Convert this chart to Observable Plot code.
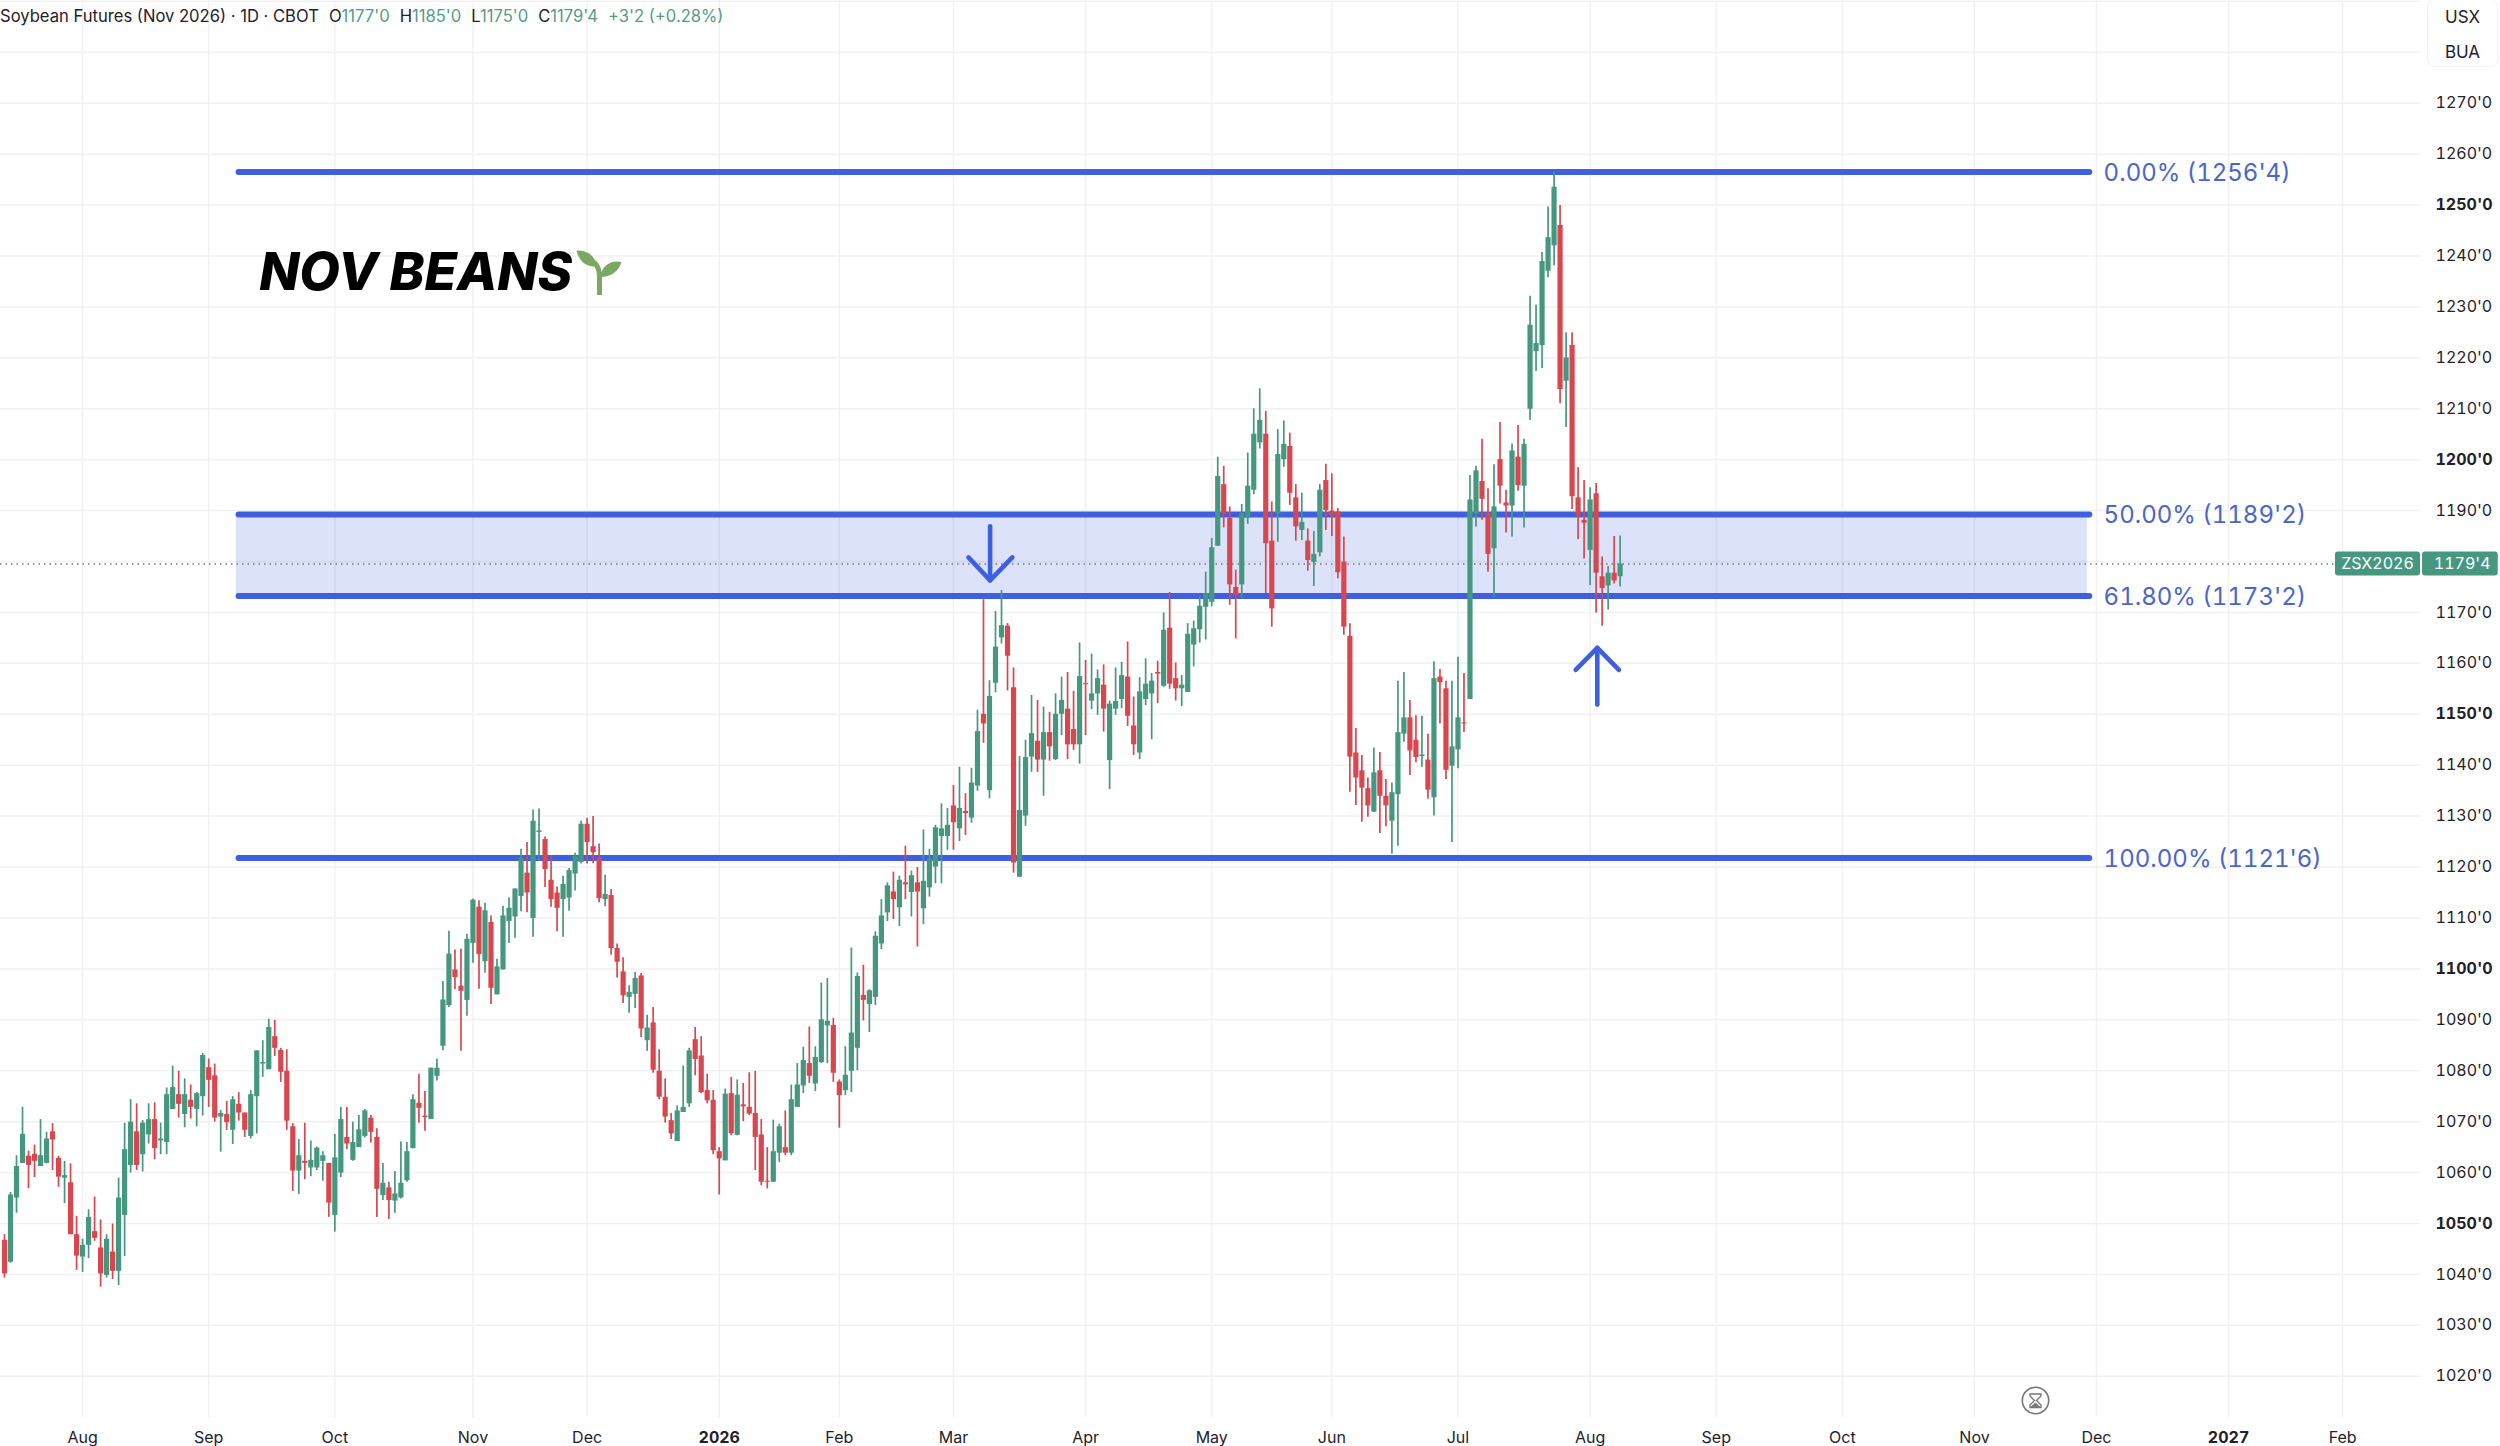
<!DOCTYPE html>
<html>
<head>
<meta charset="utf-8">
<script src="https://cdn.jsdelivr.net/npm/d3@7"></script>
<script src="https://cdn.jsdelivr.net/npm/@observablehq/plot@0.6"></script>
<style>
html,body{margin:0;padding:0;background:#fff;overflow:hidden}
#wrap{position:relative;width:2500px;height:1446px;overflow:hidden;font-family:Inter,sans-serif}
#wrap svg.plot{display:block}
#legend{position:absolute;left:0;top:6px;font-size:16.6px;line-height:21px;color:#1f2229;white-space:nowrap}
#legend .v{color:#569b87}
#legend .o{margin-left:10px}
#units{position:absolute;left:2427px;top:-1px;width:71px;height:68px;border:1px solid #f2f3f5;border-radius:7px;background:#fff;font-size:17px;color:#1f2229;text-align:center;box-sizing:border-box;padding-top:0;line-height:35px}
.icon{position:absolute;overflow:visible}
</style>
</head>
<body>
<div id="wrap"></div>
<script>
const highs = [
1047.8,1056.1,1063.3,1072.8,1064.2,1065.4,1070.4,1067.9,1069.6,1063.2,
1062.2,1061.7,1051.4,1046.9,1052.7,1055.2,1050.7,1047.8,1049.9,1058.9,
1069.7,1074.3,1073.5,1070.2,1073.5,1073.7,1069.7,1076.6,1080.9,1079.9,
1078.4,1077.2,1075.7,1083.4,1082.3,1081.3,1072.2,1074,1074.9,1075.7,
1071.7,1076.1,1083.9,1085.9,1090.1,1089.9,1084.4,1084.1,1069.6,1066.5,
1069.7,1066.2,1065,1064.1,1061.8,1067.5,1072.8,1072.8,1069.9,1071.2,
1072.4,1071.2,1068.6,1061.8,1058.1,1060.2,1066,1065.9,1075.3,1079.3,
1075.9,1080.5,1082.3,1097.5,1107.4,1103.7,1103.9,1106.8,1113.7,1113.4,
1112.9,1110.4,1101.9,1112.3,1113.9,1115.7,1123.5,1124.8,1131.2,1131.4,
1125.9,1122.2,1116.1,1118.2,1119.7,1122.7,1129,1129.6,1129.9,1124.5,
1118.4,1115.6,1104.9,1102.2,1096.7,1099.3,1099.1,1090.9,1092.4,1084.1,
1078.4,1071.6,1073.1,1080.9,1084.4,1088.5,1086.7,1079.3,1076.1,1064.9,
1076.4,1078.7,1078.2,1077.5,1079.6,1079.9,1070.4,1064.9,1070.3,1069.5,
1072.1,1077.2,1081.4,1084.6,1088.6,1084.7,1097.2,1098.1,1090.3,1078.2,
1084.7,1104.1,1099.2,1100.7,1095.9,1107.3,1113.6,1116.9,1119,1118.2,
1124.1,1119.2,1119.9,1127.3,1123.5,1128.2,1132.4,1131.5,1136,1139.6,
1134.4,1139.4,1150.8,1172.5,1156.6,1170.2,1174.3,1167.8,1159.1,1141.7,
1144.9,1153.7,1152.7,1151.4,1150.4,1154,1157.3,1158.2,1154.5,1164,
1160.6,1161.8,1158.7,1159.7,1152.6,1159.1,1160.2,1164.2,1153.4,1157.2,
1160.9,1158,1160.4,1169.9,1173.9,1160.1,1157.6,1167.8,1168.3,1173.1,
1177.9,1184.5,1200.5,1198.7,1190.7,1178.3,1191.2,1201.3,1210,1213.9,
1209.5,1191.7,1205.9,1207.6,1205.2,1195.1,1193.4,1186.4,1185.9,1195.1,
1199.1,1197.2,1190.4,1184.8,1167.8,1147.2,1141.9,1137.5,1143.4,1142.5,
1137.2,1136.5,1156.5,1158.2,1152.7,1149.7,1149.6,1146.1,1160.3,1158.8,
1156.5,1156.5,1161.2,1158,1196.9,1198.7,1204,1194.3,1199,1207.3,
1194,1203.1,1206.7,1204,1232.1,1230.3,1240.7,1249.6,1256.5,1249.9,
1224.9,1224.9,1198.4,1195.9,1194.5,1195.3,1180.9,1179,1184.9,1185];
const bodyHighs = [
1046.7,1055.6,1061.2,1067.5,1063.2,1063.6,1063.3,1066.6,1068,1062.8,
1059.4,1058,1047.8,1045.7,1051.2,1048.4,1045.2,1046.9,1044.4,1055,
1064.5,1069.9,1068,1069.7,1070.4,1070.4,1066.6,1075.3,1076.7,1075.3,
1075.3,1074.2,1075.5,1083,1080.6,1079,1071.6,1071.4,1074.3,1073.4,
1071.7,1075.3,1083.9,1081.6,1088.5,1086.7,1084,1079.9,1069,1063.3,
1062.2,1062.4,1064.8,1063.3,1061.8,1062.9,1070.4,1066.9,1065.9,1068.4,
1072.1,1070.7,1066.9,1057.9,1057,1055.8,1057.9,1064.1,1074.3,1073.6,
1071.1,1080.5,1080.5,1093.9,1102.9,1099.8,1096.6,1105.8,1113.5,1112.1,
1111.4,1109.1,1100.4,1110.4,1111.9,1115.7,1121.7,1118.8,1129,1127.1,
1125.4,1117.4,1114.9,1116.6,1119.3,1122.1,1128.4,1128.4,1124,1121.8,
1114.6,1114.4,1104,1099.4,1095.4,1098.1,1098.6,1088.4,1089.4,1079.9,
1074.8,1070.2,1072.1,1072.8,1083.9,1086.1,1082.9,1076.1,1074.2,1064.1,
1075.4,1075.5,1075.2,1073.3,1072.8,1071.6,1067.4,1058.3,1064.1,1069,
1064.9,1074.3,1077.2,1082,1081.4,1082.6,1090,1089.7,1088.9,1077.8,
1079.1,1087.4,1098.5,1094.8,1095.7,1106.4,1110.4,1116.3,1115.1,1117.4,
1116.9,1118.3,1116.9,1117.2,1121.6,1127.7,1127.5,1128.2,1132,1131.5,
1130.9,1136.5,1146.6,1150,1153.5,1163.2,1167.4,1167.3,1155.2,1131.1,
1141.5,1146.2,1144.7,1146.4,1146.4,1150,1152.7,1151,1147,1157.4,
1156,1154,1157,1155.7,1152,1152.5,1157.6,1157.3,1147.7,1154.4,
1155.9,1156.5,1158.2,1166.5,1166.9,1157,1155.7,1165.7,1166.8,1171.2,
1173.7,1182.7,1196.7,1195.1,1188.5,1174.9,1189.4,1194.8,1205,1207.7,
1205,1184,1201,1203,1202.6,1192.5,1187.7,1184,1181.4,1194,
1195.9,1189.9,1189.7,1179.9,1165.3,1142.4,1138.9,1135.4,1138.5,1138.9,
1133.9,1134.6,1146.4,1149.3,1149.3,1144.9,1142,1141,1157,1157.3,
1155,1143.6,1149.3,1148.3,1192.1,1197.8,1195.7,1189.4,1190.7,1200,
1191.5,1201.7,1200.5,1203,1226.4,1222.8,1238.9,1243.6,1253.5,1246,
1220,1222.4,1192.5,1188.1,1192.1,1193.3,1177,1177.7,1177.7,1179.5];
const bodyLows = [
1040.1,1042.4,1055,1061.8,1061.4,1062.2,1061.2,1061.8,1066.4,1059.1,
1058.9,1047.8,1043.6,1043.4,1045.7,1047.1,1040.1,1039.8,1040.6,1040.6,
1051.6,1061.4,1061.4,1063.5,1067.4,1064.7,1066.2,1065.9,1072.4,1073.4,
1071.4,1072.8,1072.4,1074.9,1078.1,1070.7,1070.9,1069.8,1068.3,1071.7,
1068.3,1067.1,1074.9,1081.3,1080.2,1084.4,1079.7,1070.1,1060.3,1060.3,
1061.8,1060.9,1060.9,1062.2,1054,1051.6,1059.9,1065.6,1062.4,1064.9,
1067.1,1067.9,1056.7,1055.5,1054.5,1054.4,1055,1058.4,1064.7,1072.6,
1070.8,1070.4,1078.9,1084.8,1092.8,1098.3,1095.6,1093.8,1105,1102.8,
1101.4,1096.2,1094.9,1099.8,1109.3,1110.2,1114.2,1114.9,1109.9,1126.8,
1119.5,1113.6,1111.9,1113.6,1113.9,1118.6,1120.9,1124.8,1122.8,1113.8,
1113.6,1104,1101.3,1094.7,1094.4,1095,1088.2,1085.9,1080.1,1074.8,
1070.9,1067.6,1066.1,1071.8,1073.5,1082.2,1075.7,1074.1,1064.3,1062.7,
1062.3,1067.6,1067.3,1072.9,1071.5,1066.9,1058.1,1058.1,1058.1,1063.8,
1063.8,1063.8,1072.8,1077,1078.9,1077.4,1081.6,1088.8,1079.5,1075.1,
1076.1,1079.9,1084.4,1093.8,1093,1094.4,1104.9,1111,1113.6,1112,
1116.5,1115,1115.1,1111.8,1115.9,1120,1126,1126,1128.7,1127.5,
1130.5,1129.6,1135.9,1148.1,1135,1156.1,1165,1161.4,1120.8,1118,
1130,1141.6,1141,1141,1143.6,1141.1,1150,1144,1144,1144,
1155.8,1152.6,1154,1151,1140.9,1151,1152.9,1149.6,1144,1142.4,
1152.9,1154,1157.9,1155.5,1155.9,1155,1155,1154.3,1163.6,1166.6,
1171,1172,1183,1189.3,1175.4,1173.3,1175.4,1188.5,1194,1203.3,
1183.5,1170.7,1189.3,1200,1193.4,1186.8,1186.1,1180.2,1179.8,1181.7,
1190,1188.9,1177.8,1167.1,1141.6,1137.5,1135.5,1132,1130.8,1133.9,
1132,1129,1134.2,1146.1,1142.8,1141.5,1141.7,1135.1,1133.6,1156.2,
1139,1139.8,1143,1148.1,1152.9,1189.3,1192.2,1181.4,1182.5,1194.8,
1190.9,1190.9,1194.9,1194.8,1209.9,1221.2,1222.4,1237,1242,1213.8,
1215.4,1192.7,1188.9,1187.5,1182.2,1177.7,1174.7,1175.2,1176.2,1177];
const lows = [
1039.3,1042.2,1052,1061.8,1056.8,1059,1061.2,1061.7,1060.4,1057.1,
1053.9,1047.8,1040.8,1040.4,1043.1,1046.5,1037.5,1039.3,1039,1037.8,
1043.5,1059.9,1060.4,1060.1,1065.6,1062.5,1063.5,1063.5,1072.4,1070.7,
1068.8,1070.5,1069,1071.1,1072.8,1069.9,1064,1068.3,1065.5,1070.1,
1066.9,1066.6,1067.6,1078.7,1080.2,1082.8,1077.7,1068.3,1056.3,1055.7,
1058.6,1059.2,1060.4,1058.3,1051.2,1048.3,1059,1064.5,1062.2,1064.9,
1066.8,1065.8,1051.2,1054.5,1050.8,1052,1054.8,1058.1,1064.7,1069.7,
1068.1,1070.4,1078,1083.9,1092.4,1095.9,1083.8,1090.7,1101.1,1096,
1099.2,1093,1094.9,1099.8,1105,1106,1111.2,1111,1106.2,1121.2,
1116,1112.1,1107.3,1106.2,1111.3,1115.3,1120.6,1120.6,1120.7,1113,
1112.2,1102.7,1098.2,1093.2,1091.3,1092.2,1086.5,1083.8,1079.5,1074.3,
1069.7,1066.5,1066.1,1071.8,1072.8,1079,1075.5,1073.5,1063.5,1055.6,
1062.3,1067.2,1067.2,1070,1071.2,1060.4,1057.4,1056.8,1058.1,1062,
1063.3,1063.3,1072.8,1075.5,1077.5,1075.9,1081.4,1081.4,1077.7,1068.7,
1075.1,1075.7,1080,1089.8,1087.5,1092.8,1103.8,1109.3,1109.7,1108.3,
1113.6,1110.2,1104.3,1108.7,1114.1,1116.7,1116.7,1123.3,1123.3,1125,
1126.2,1128.6,1134.9,1144.3,1133.4,1154.2,1163.8,1154.6,1118.8,1118,
1128,1138.6,1138.6,1133.9,1140.8,1140.9,1145.8,1141.1,1142.9,1140.2,
1145.8,1150.9,1149.8,1146.5,1135.2,1149.8,1151.1,1147.6,1141.9,1141.1,
1151.7,1145,1152.1,1155.3,1154.9,1152.6,1151.5,1154.3,1159.3,1164,
1164.6,1171.1,1183,1186.6,1171.4,1164.8,1172.7,1187.3,1193.1,1202.1,
1173.7,1167.1,1183.8,1198.5,1191,1184,1184.1,1178.1,1175.1,1180.9,
1186.1,1184.9,1176.6,1165.5,1134.7,1132.1,1128.8,1129.8,1130.7,1126.6,
1127.9,1122.5,1124.1,1144.5,1138,1140.5,1139.6,1133.3,1130,1148.1,
1137.2,1124.8,1139.3,1146.4,1152.9,1186.8,1188.1,1177.9,1173,1191.3,
1185.6,1184.8,1193.8,1186.6,1207.7,1217.3,1217.9,1235.7,1238.1,1211,
1206.3,1190.2,1184.3,1180.5,1175.3,1169.9,1167.3,1170.5,1175.6,1175];
const directions =
"DUUUDDUUDD"+"UDDUUDDUDU"+"UUDUUDUUUD"+"UDUUDDUDUD"+"DUUUUDDDDU"+"DUUUDUUDUU"+
"UDDUDUUUUD"+"DUUUUDDUUD"+"UDUUUUUDUU"+"DDDUUUUDDD"+"UDDDUUDUDD"+"DDUUUDDDDD"+
"UDUDDDDDUU"+"DUUUDUUUDD"+"UUUDUUUUDU"+"DUDUUUUUDU"+"DUUDUUUDDU"+"UUDUDUUDDU"+
"DUUDUUUDDU"+"UUDUDDUUUU"+"UUUDDDUUUU"+"DDUUDDUDUU"+"DDDDDDDDUD"+"DUUUDDUDUD"+
"DUUDUUDDUD"+"DUDUUUUUUD"+"UDDDUDDUDU";

const monthBars = [13,34,55,78,97,119,139,158,180,201,221,242,264,285,306,328,348.3,370.3,389.3];
const monthLabels = ["Aug","Sep","Oct","Nov","Dec","2026","Feb","Mar","Apr","May","Jun","Jul","Aug","Sep","Oct","Nov","Dec","2027","Feb"];
const yearLabels = ["2026","2027"];
const priceTicks = [1020,1030,1040,1060,1070,1080,1090,1110,1120,1130,1140,1160,1170,1190,1210,1220,1230,1240,1260,1270];
const roundTicks = [1050,1100,1150,1200,1250];
const gridPrices = d3.range(1020,1291,10);
const fibLevels = [1256.5,1189.25,1173.25,1121.75];
const fibLabels = ["0.00% (1256'4)","50.00% (1189'2)","61.80% (1173'2)","100.00% (1121'6)"];
const lastPrice = 1179.5;
const lastPriceLabel = "1179'4";
const symbolLabel = "ZSX2026";
const chartTitle = "NOV BEANS";
const legendTitle = "Soybean Futures (Nov 2026) · 1D · CBOT";
const legendKeys = ["O","H","L","C"];
const legendValues = ["1177'0","1185'0","1175'0","1179'4"];
const legendChange = "+3'2 (+0.28%)";
const unitLabels = ["USX","BUA"];
const arrowDownShaft = [{bar:164.1,price:1186.9},{bar:164.1,price:1176.3}];
const arrowDownHead = [{bar:160.5,price:1180.8},{bar:164.1,price:1176.3},{bar:167.8,price:1180.8}];
const arrowUpShaft = [{bar:265.2,price:1151.9},{bar:265.2,price:1163.05}];
const arrowUpHead = [{bar:261.6,price:1158.7},{bar:265.2,price:1163.05},{bar:268.8,price:1158.7}];

const candles = highs.map((h,i)=>({i,h,l:lows[i],top:bodyHighs[i],bot:bodyLows[i],up:directions[i]==="U"}));
const GREEN="#46977f", RED="#d8474f", BLUE="#3d5fe0", GRID="#f0f1f3";
const up = candles.filter(d=>d.up), down = candles.filter(d=>!d.up);
const yearTick = v => yearLabels.includes(monthLabels[monthBars.indexOf(v)]);
const priceFmt = d => `${d}'0`;
const monthFmt = v => monthLabels[monthBars.indexOf(v)];
const axisFont = {fontSize:16,fontFamily:"Inter,sans-serif",fontVariant:"tabular-nums",fill:"#1f2229",tickSize:0,label:null};

const chart = Plot.plot({
  width:2500,height:1446,
  marginLeft:0,marginRight:80,marginTop:0,marginBottom:29,
  style:{background:"#fff",fontFamily:"Inter,sans-serif",overflow:"visible"},
  x:{type:"linear",domain:[-0.666,402.26],axis:null},
  y:{type:"linear",domain:[1011.9,1290.17],axis:null},
  marks:[
    Plot.gridY(gridPrices,{stroke:GRID,strokeOpacity:1,strokeWidth:1.5}),
    Plot.gridX(monthBars,{stroke:GRID,strokeOpacity:1,strokeWidth:1.5}),
    Plot.rect([0],{x1:38.6,x2:346.8,y1:fibLevels[2],y2:fibLevels[1],fill:BLUE,fillOpacity:0.18}),
    Plot.ruleY([lastPrice],{x1:-0.666,x2:388.1,stroke:"#777",strokeWidth:1.5,strokeDasharray:"1.5 4"}),
    Plot.ruleY(fibLevels,{x1:39.05,x2:347.2,stroke:BLUE,strokeWidth:6,strokeLinecap:"round"}),
    Plot.ruleX(up,{x:"i",y1:"l",y2:"h",stroke:GREEN,strokeWidth:1.7}),
    Plot.ruleX(down,{x:"i",y1:"l",y2:"h",stroke:RED,strokeWidth:1.7}),
    Plot.ruleX(up,{x:"i",y1:"bot",y2:"top",stroke:GREEN,strokeWidth:5.2}),
    Plot.ruleX(down,{x:"i",y1:"bot",y2:"top",stroke:RED,strokeWidth:5.2}),
    ...[arrowDownShaft,arrowDownHead,arrowUpShaft,arrowUpHead].map(a=>
      Plot.line(a,{x:"bar",y:"price",stroke:BLUE,strokeWidth:4.6,strokeLinecap:"round",strokeLinejoin:"round"})),
    Plot.text(fibLabels,{x:349.5,y:(d,i)=>fibLevels[i],text:d=>d,textAnchor:"start",dy:1,fill:"#4a66c8",fontSize:24,fontVariant:"tabular-nums",fontFamily:"Inter,sans-serif"}),
    Plot.text([chartTitle],{x:42.4,y:1236.7,text:d=>d,textAnchor:"start",fill:"#000",fontSize:52.5,fontWeight:800,fontStyle:"italic",fontFamily:"Inter,sans-serif"}),
    Plot.rect([0],{x1:388.1,x2:402.26,y1:lastPrice-2.36,y2:lastPrice+2.36,fill:GREEN,r:3}),
    Plot.rect([0],{x1:402.6,x2:415.2,y1:lastPrice-2.36,y2:lastPrice+2.36,fill:GREEN,r:3}),
    Plot.text([symbolLabel],{x:395.1,y:lastPrice,text:d=>d,fill:"#fff",fontSize:16,fontVariant:"tabular-nums",fontFamily:"Inter,sans-serif"}),
    Plot.text([lastPriceLabel],{x:409.2,y:lastPrice,text:d=>d,fill:"#fff",fontSize:16,fontVariant:"tabular-nums",fontFamily:"Inter,sans-serif"}),
    Plot.axisY({...axisFont,anchor:"right",ticks:priceTicks,tickFormat:priceFmt,tickPadding:15}),
    Plot.axisY({...axisFont,anchor:"right",ticks:roundTicks,tickFormat:priceFmt,tickPadding:15,fontWeight:700}),
    Plot.axisX({...axisFont,anchor:"bottom",ticks:monthBars.filter(v=>!yearTick(v)),tickFormat:monthFmt,tickPadding:14}),
    Plot.axisX({...axisFont,anchor:"bottom",ticks:monthBars.filter(yearTick),tickFormat:monthFmt,tickPadding:14,fontWeight:700})
  ]
});
const wrap = document.getElementById("wrap");
wrap.appendChild(chart);

const legend = document.createElement("div");
legend.id="legend";
const add=(t,c)=>{const s=document.createElement("span");s.textContent=t;if(c)s.className=c;legend.appendChild(s);};
add(legendTitle);
legendKeys.forEach((k,i)=>{add(k,"o");add(legendValues[i],"v");});
add(legendChange,"v o");
wrap.appendChild(legend);

const units=document.createElement("div");
units.id="units";
units.innerHTML=unitLabels.join("<br>");
wrap.appendChild(units);

wrap.insertAdjacentHTML("beforeend",`
<svg class="icon" style="left:576px;top:250px" width="46" height="46" viewBox="0 0 46 46">
  <path d="M23.5 45 L23.5 26 C23.5 20 22 16 18 12" fill="none" stroke="#7ba862" stroke-width="5"/>
  <path d="M0.5 0.5 C10 0 19 5 21 16 C12 18 3 12 0.5 0.5Z" fill="#7ba862"/>
  <path d="M45.5 12 C37 10 27 13 24 27 C35 27 43 21 45.5 12Z" fill="#7ba862"/>
</svg>
<svg class="icon" style="left:2021px;top:1386px" width="29" height="29" viewBox="0 0 29 29">
  <circle cx="14.5" cy="14.5" r="13.2" fill="#fff" stroke="#777" stroke-width="1.6"/>
  <path d="M9 8 H20 V10 L15.5 14.5 L20 19 V21.5 H9 V19 L13.5 14.5 L9 10Z" fill="#fff" stroke="#777" stroke-width="1.4"/>
  <path d="M9.5 21 L14.5 16.5 L19.5 21Z" fill="#777"/>
</svg>`);
</script>
</body>
</html>
